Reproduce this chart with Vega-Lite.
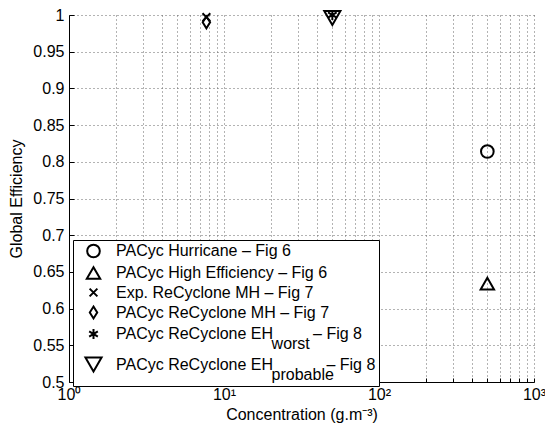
{
  "$schema": "https://vega.github.io/schema/vega-lite/v6.json",
  "width": 465,
  "height": 367,
  "autosize": {"type": "none"},
  "padding": {"left": 69, "top": 15, "right": 11, "bottom": 48},
  "background": "white",
  "config": {
    "font": "Liberation Sans",
    "view": {"stroke": null},
    "style": {"guide-label": {"lineHeight": 10}}
  },
  "data": {
    "values": [
      {"series": "hurricane", "conc": 500, "eff": 0.814},
      {"series": "higheff", "conc": 500, "eff": 0.634},
      {"series": "expmh", "conc": 7.7, "eff": 0.997},
      {"series": "pacycmh", "conc": 7.7, "eff": 0.99},
      {"series": "ehworst", "conc": 50, "eff": 1.0},
      {"series": "ehprobable", "conc": 50, "eff": 0.996}
    ]
  },
  "mark": {"type": "point", "filled": false, "color": "black", "opacity": 1},
  "encoding": {
    "x": {
      "field": "conc",
      "type": "quantitative",
      "scale": {"type": "log", "domain": [1, 1000], "nice": false},
      "axis": {
        "title": "Concentration (g.m⁻³)",
        "titleFontSize": 16,
        "titleFontWeight": "normal",
        "titlePadding": 4,
        "values": [1,2,3,4,5,6,7,8,9,10,20,30,40,50,60,70,80,90,100,200,300,400,500,600,700,800,900,1000],
        "labelExpr": "datum.value == 1 ? '10⁰' : datum.value == 10 ? '10¹' : datum.value == 100 ? '10²' : datum.value == 1000 ? '10³' : ''",
        "labelFontSize": 16,
        "labelColor": "black",
        "labelPadding": 8,
        "labelFlush": false,
        "labelOverlap": false,
        "tickSize": -4,
        "tickColor": "black",
        "domainColor": "black",
        "grid": true,
        "gridDash": [1, 3],
        "gridColor": "#666",
        "gridOpacity": 1
      }
    },
    "y": {
      "field": "eff",
      "type": "quantitative",
      "scale": {"domain": [0.5, 1], "nice": false, "zero": false},
      "axis": {
        "title": "Global Efficiency",
        "titleFontSize": 16,
        "titleFontWeight": "normal",
        "titlePadding": 8,
        "values": [0.5,0.55,0.6,0.65,0.7,0.75,0.8,0.85,0.9,0.95,1],
        "format": ".2~f",
        "labelFontSize": 16,
        "labelColor": "black",
        "labelPadding": 10,
        "labelFlush": false,
        "tickSize": -5,
        "tickColor": "black",
        "domainColor": "black",
        "grid": true,
        "gridDash": [1, 3],
        "gridColor": "#666",
        "gridOpacity": 1
      }
    },
    "shape": {
      "field": "series",
      "type": "nominal",
      "scale": {
        "domain": ["hurricane", "higheff", "expmh", "pacycmh", "ehworst", "ehprobable"],
        "range": ["circle", "triangle-up", "M-0.55,-0.55L0.55,0.55M-0.55,0.55L0.55,-0.55", "M0,-0.8L0.5,0L0,0.8L-0.5,0Z", "M0,-0.65L0,0.65M-0.56,-0.33L0.56,0.33M-0.56,0.33L0.56,-0.33", "triangle-down"]
      },
      "legend": {
        "orient": "none",
        "legendX": 4,
        "legendY": 225,
        "title": null,
        "strokeColor": "black",
        "fillColor": "white",
        "padding": 3,
        "rowPadding": 1,
        "symbolOffset": 8,
        "labelOffset": 13,
        "labelFontSize": 16,
        "labelColor": "black",
        "labelLimit": 400,
        "symbolStrokeColor": "black",
        "symbolFillColor": "transparent",
        "labelExpr": "datum.value == 'hurricane' ? 'PACyc Hurricane – Fig 6' : datum.value == 'higheff' ? 'PACyc High Efficiency – Fig 6' : datum.value == 'expmh' ? 'Exp. ReCyclone MH – Fig 7' : datum.value == 'pacycmh' ? 'PACyc ReCyclone MH – Fig 7' : datum.value == 'ehworst' ? ['PACyc ReCyclone EH\u00a0\u00a0\u00a0\u00a0\u00a0\u00a0\u00a0\u00a0\u00a0– Fig 8', '\u200b\u00a0\u00a0\u00a0\u00a0\u00a0\u00a0\u00a0\u00a0\u00a0\u00a0\u00a0\u00a0\u00a0\u00a0\u00a0\u00a0\u00a0\u00a0\u00a0\u00a0\u00a0\u00a0\u00a0\u00a0\u00a0\u00a0\u00a0\u00a0\u00a0\u00a0\u00a0\u00a0\u00a0\u00a0\u00a0worst'] : ['PACyc ReCyclone EH\u00a0\u00a0\u00a0\u00a0\u00a0\u00a0\u00a0\u00a0\u00a0\u00a0\u00a0\u00a0– Fig 8', '\u200b\u00a0\u00a0\u00a0\u00a0\u00a0\u00a0\u00a0\u00a0\u00a0\u00a0\u00a0\u00a0\u00a0\u00a0\u00a0\u00a0\u00a0\u00a0\u00a0\u00a0\u00a0\u00a0\u00a0\u00a0\u00a0\u00a0\u00a0\u00a0\u00a0\u00a0\u00a0\u00a0\u00a0\u00a0\u00a0probable']"
      }
    },
    "size": {
      "field": "series",
      "type": "nominal",
      "scale": {
        "domain": ["hurricane", "higheff", "expmh", "pacycmh", "ehworst", "ehprobable"],
        "range": [160, 260, 220, 500, 300, 324]
      }
    },
    "strokeWidth": {
      "field": "series",
      "type": "nominal",
      "scale": {
        "domain": ["hurricane", "higheff", "expmh", "pacycmh", "ehworst", "ehprobable"],
        "range": [2, 2, 1.5, 2, 1.5, 1]
      }
    }
  }
}
